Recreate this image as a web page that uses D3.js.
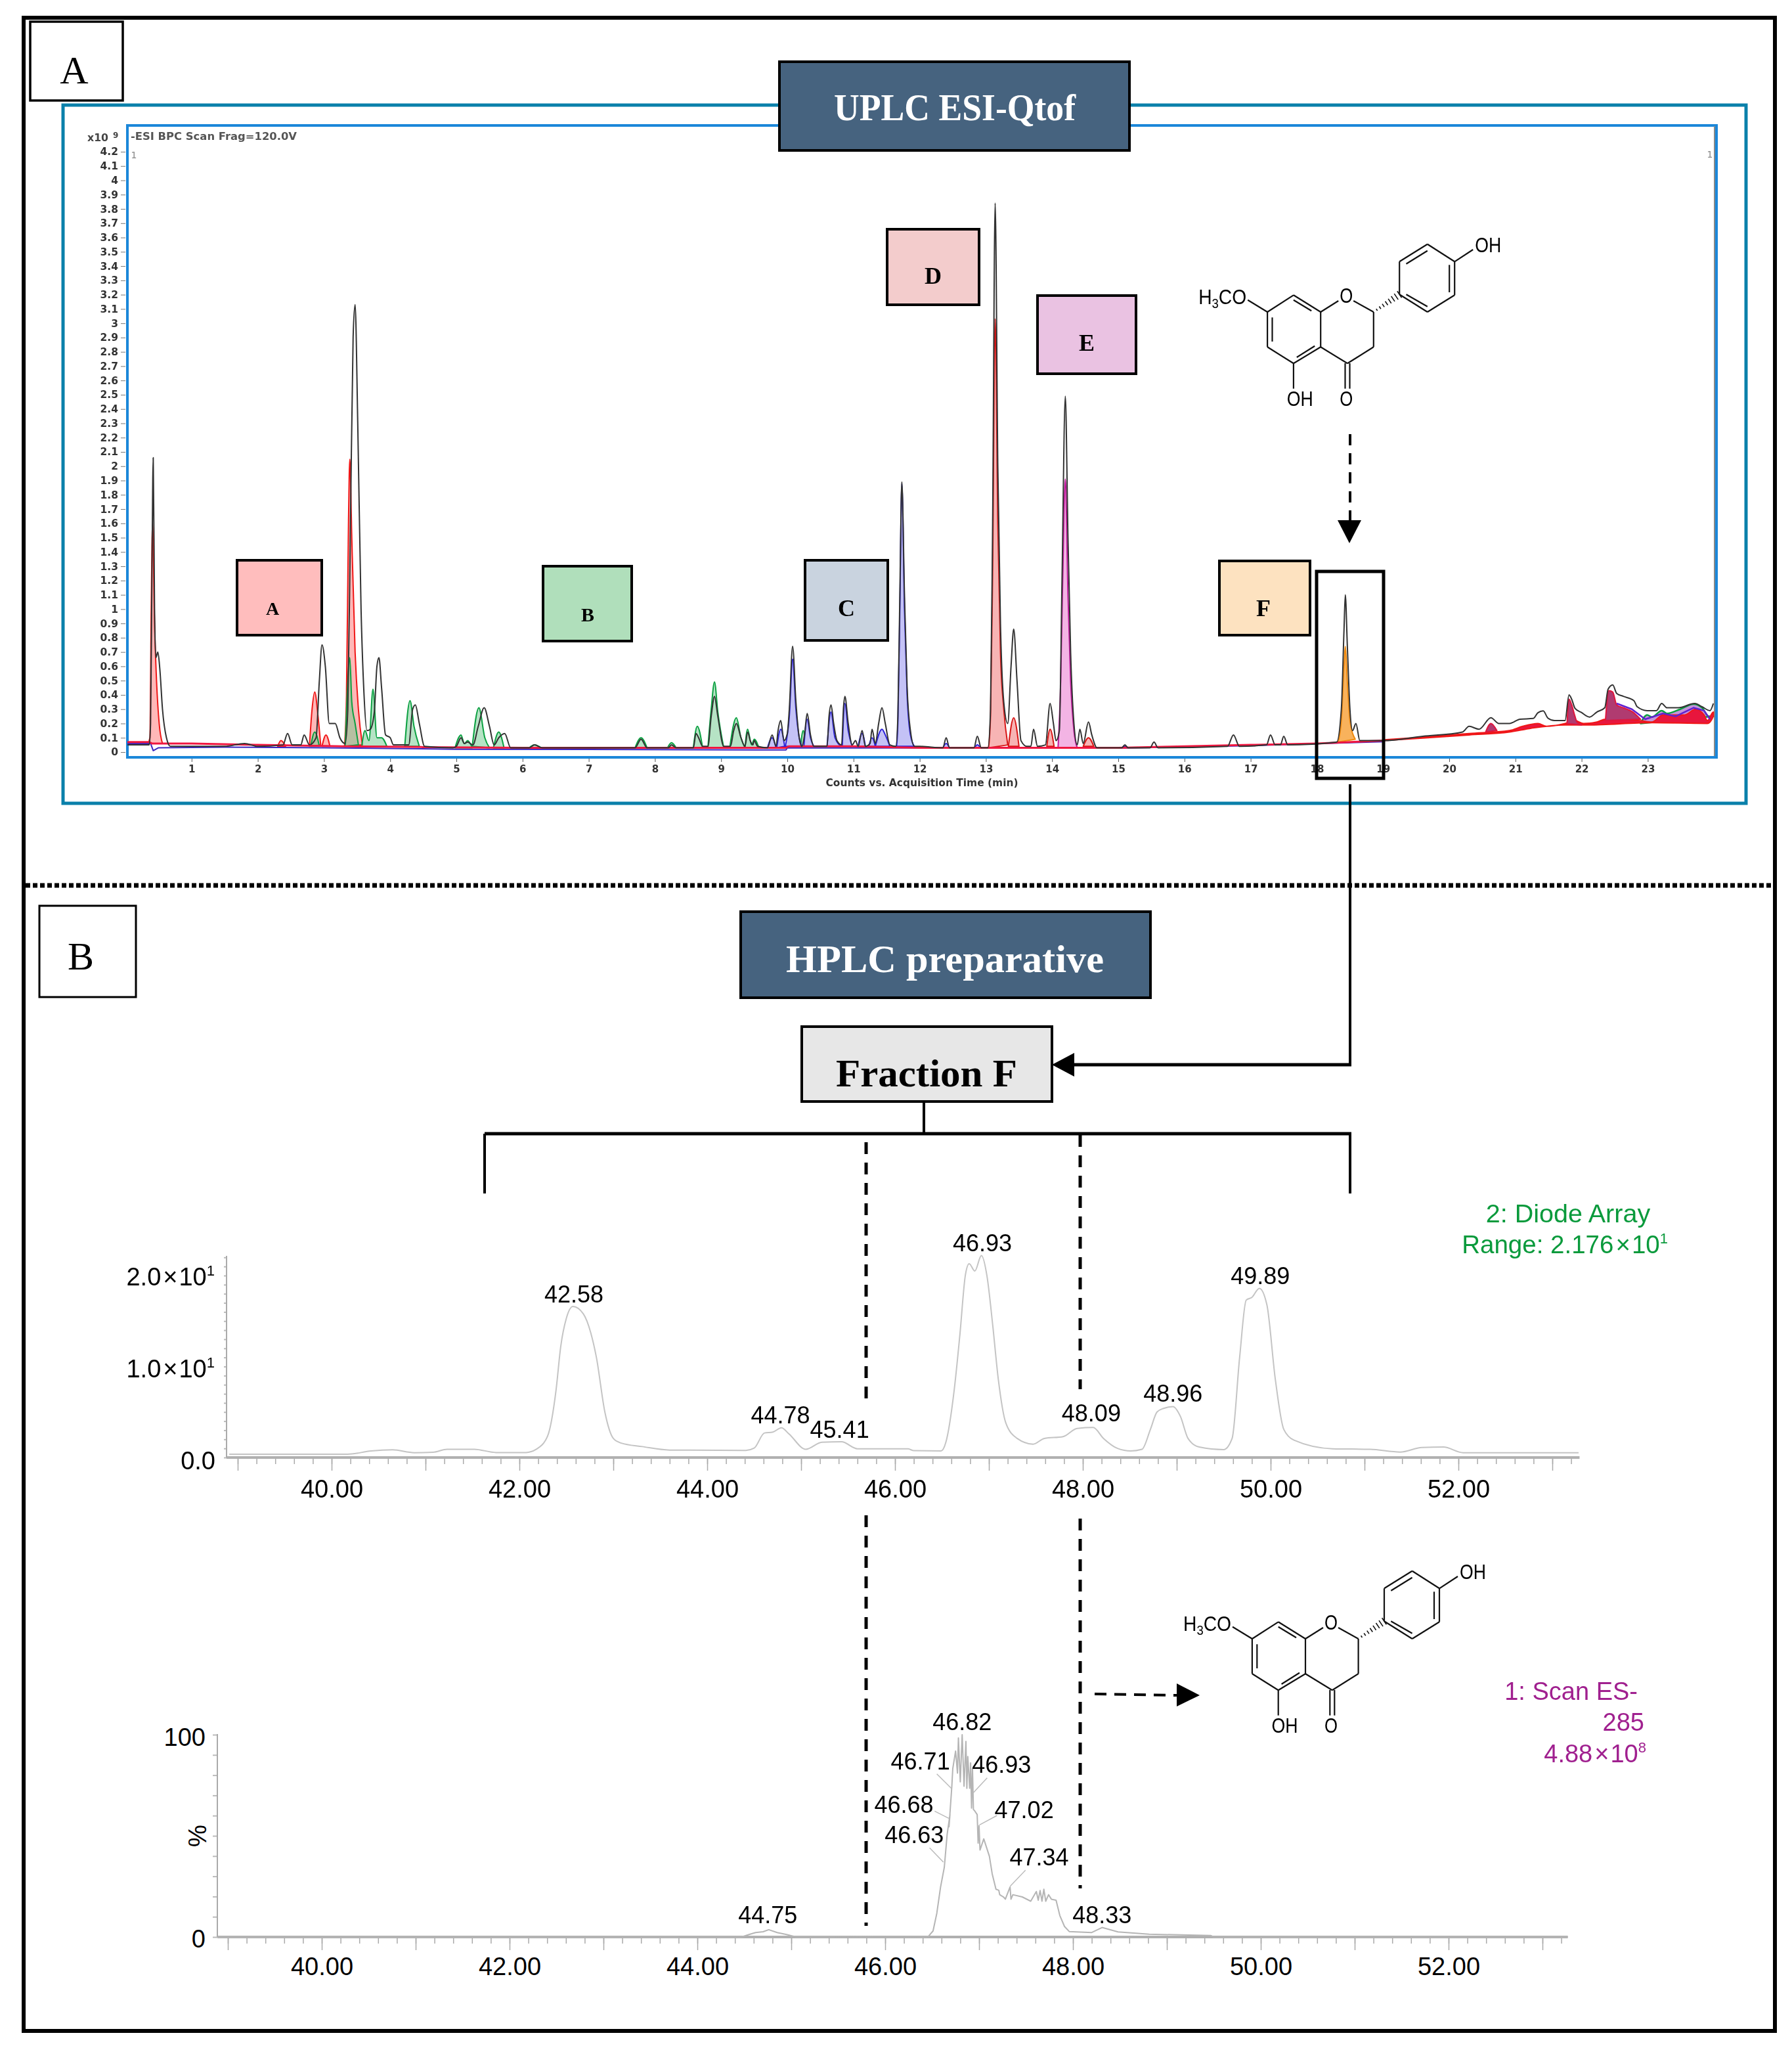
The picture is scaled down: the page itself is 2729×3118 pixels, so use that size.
<!DOCTYPE html>
<html><head><meta charset="utf-8">
<style>html,body{margin:0;padding:0;background:#fff}svg{display:block}text{font-family:"Liberation Sans",Arial,sans-serif}</style>
<script src="https://cdn.jsdelivr.net/npm/d3@7"></script></head><body>
<svg id="c" width="2729" height="3118"></svg>
<script>
// ---------- DATA: UPLC ESI-Qtof base peak chromatogram (t min, counts x10^9) ----------
const uplcBpcTrace = [[.03,.05],[.36,.05],[.38,.2],[.40,1.2],[.42,2.06],[.44,1.0],[.46,.66],[.49,.7],[.52,.58],[.56,.3],[.62,.1],[.68,.04],[1.5,.04],[1.8,.06],[2.0,.04],[2.38,.05],[2.45,.13],[2.52,.05],[2.65,.05],[2.7,.12],[2.78,.05],[2.88,.1],[2.93,.5],[2.97,.75],[3.02,.6],[3.08,.2],[3.13,.2],[3.17,.2],[3.24,.1],[3.32,.06],[3.36,.3],[3.4,1.6],[3.44,2.9],[3.47,3.13],[3.51,2.3],[3.56,1.0],[3.6,.45],[3.65,.15],[3.7,.16],[3.76,.28],[3.8,.6],[3.83,.66],[3.87,.45],[3.93,.12],[4.0,.1],[4.05,.05],[4.28,.05],[4.34,.3],[4.38,.33],[4.44,.2],[4.52,.04],[4.95,.03],[5.0,.04],[5.07,.1],[5.12,.06],[5.17,.07],[5.25,.05],[5.33,.18],[5.42,.31],[5.5,.18],[5.57,.05],[5.64,.1],[5.73,.13],[5.82,.03],[6.1,.03],[6.18,.05],[6.3,.03],[7.7,.03],[7.79,.09],[7.88,.03],[8.2,.03],[8.25,.05],[8.32,.03],[8.58,.03],[8.62,.13],[8.66,.1],[8.72,.04],[8.8,.04],[8.85,.25],[8.9,.39],[8.95,.25],[9.04,.04],[9.14,.04],[9.19,.15],[9.23,.2],[9.3,.1],[9.36,.04],[9.4,.14],[9.44,.08],[9.48,.05],[9.5,.08],[9.55,.04],[9.7,.03],[9.77,.12],[9.83,.04],[9.86,.15],[9.9,.22],[9.95,.08],[10.0,.13],[10.03,.3],[10.08,.74],[10.13,.35],[10.18,.1],[10.22,.04],[10.26,.12],[10.3,.27],[10.35,.12],[10.4,.04],[10.6,.04],[10.63,.25],[10.66,.33],[10.7,.2],[10.75,.08],[10.82,.05],[10.85,.32],[10.87,.39],[10.92,.2],[10.98,.05],[11.03,.08],[11.07,.04],[11.13,.15],[11.18,.04],[11.25,.06],[11.28,.16],[11.33,.06],[11.38,.2],[11.43,.31],[11.48,.2],[11.55,.05],[11.64,.04],[11.67,.25],[11.7,1.1],[11.73,1.89],[11.77,1.1],[11.81,.45],[11.86,.15],[11.92,.04],[12.0,.04],[12.35,.03],[12.4,.1],[12.45,.03],[12.82,.03],[12.87,.11],[12.93,.03],[13.03,.03],[13.07,.3],[13.1,1.5],[13.14,3.84],[13.18,2.0],[13.22,.9],[13.27,.35],[13.33,.2],[13.38,.6],[13.42,.86],[13.47,.5],[13.53,.08],[13.62,.04],[13.68,.04],[13.72,.16],[13.78,.04],[13.9,.05],[13.97,.34],[14.02,.2],[14.06,.08],[14.11,.15],[14.15,1.2],[14.2,2.49],[14.24,1.5],[14.28,.7],[14.33,.2],[14.38,.05],[14.42,.16],[14.47,.06],[14.55,.21],[14.6,.12],[14.68,.03],[15.05,.03],[15.1,.05],[15.15,.03],[15.48,.03],[15.54,.07],[15.6,.03],[16.65,.04],[16.74,.12],[16.83,.04],[17.24,.05],[17.3,.12],[17.37,.05],[17.45,.05],[17.5,.11],[17.56,.05],[18.3,.07],[18.37,.3],[18.41,.85],[18.43,1.1],[18.46,.75],[18.5,.3],[18.54,.15],[18.59,.2],[18.65,.08],[19,.08],[19.6,.11],[20.2,.14],[20.3,.18],[20.45,.16],[20.63,.24],[20.75,.2],[20.91,.2],[21.07,.23],[21.27,.235],[21.34,.275],[21.42,.288],[21.49,.238],[21.59,.22],[21.75,.22],[21.81,.4],[21.85,.37],[21.9,.306],[22.0,.276],[22.12,.245],[22.23,.28],[22.35,.31],[22.4,.44],[22.47,.47],[22.53,.41],[22.63,.39],[22.79,.36],[22.84,.317],[22.99,.29],[23.13,.29],[23.21,.34],[23.29,.31],[23.46,.31],[23.71,.34],[23.82,.317],[23.94,.29],[23.99,.34]];
const fractionA = [
 [[.34,.06],[.37,.1],[.39,1.0],[.41,1.6],[.44,.9],[.47,.5],[.51,.2],[.56,.06]],
 [[2.3,.04],[2.35,.08],[2.42,.04]],
 [[2.78,.04],[2.82,.3],[2.86,.42],[2.91,.25],[2.95,.05]],
 [[2.97,.04],[3.03,.12],[3.09,.04]],
 [[3.31,.04],[3.34,.4],[3.37,1.6],[3.39,2.05],[3.42,1.5],[3.47,.7],[3.52,.3],[3.58,.05]]];
const fractionB = [
 [[2.8,.04],[2.86,.14],[2.93,.04]],
 [[3.32,.04],[3.35,.4],[3.39,.66],[3.42,.35],[3.47,.2],[3.52,.05]],
 [[3.57,.04],[3.62,.15],[3.68,.08],[3.74,.44],[3.8,.1],[3.87,.1],[3.95,.04]],
 [[4.22,.04],[4.3,.36],[4.36,.18],[4.44,.04]],
 [[4.98,.03],[5.07,.12],[5.12,.06],[5.17,.08],[5.24,.03]],
 [[5.24,.04],[5.34,.31],[5.43,.1],[5.5,.03]],
 [[5.56,.03],[5.64,.14],[5.72,.03]],
 [[6.1,.03],[6.18,.05],[6.28,.03]],
 [[7.7,.03],[7.79,.1],[7.88,.03]],
 [[8.19,.03],[8.25,.065],[8.32,.03]],
 [[8.58,.03],[8.64,.18],[8.72,.03]],
 [[8.8,.03],[8.85,.3],[8.9,.49],[8.95,.28],[9.04,.03]],
 [[9.13,.03],[9.23,.24],[9.3,.1],[9.36,.03]],
 [[9.36,.03],[9.4,.16],[9.46,.05],[9.5,.09],[9.57,.03]],
 [[10.2,.04],[10.24,.15],[10.28,.04]]];
const fractionC = [
 [[9.7,.03],[9.77,.1],[9.83,.03]],
 [[9.84,.03],[9.9,.16],[9.96,.04]],
 [[9.97,.04],[10.03,.25],[10.08,.65],[10.13,.3],[10.18,.1],[10.22,.04]],
 [[10.25,.04],[10.3,.23],[10.35,.1],[10.4,.04]],
 [[10.6,.04],[10.66,.28],[10.72,.1],[10.82,.04]],
 [[10.83,.04],[10.87,.34],[10.92,.15],[10.98,.04]],
 [[11.07,.04],[11.13,.13],[11.18,.04]],
 [[11.23,.04],[11.28,.1],[11.33,.04]],
 [[11.33,.04],[11.43,.16],[11.48,.12],[11.55,.04]],
 [[11.65,.04],[11.67,.2],[11.7,1.0],[11.73,1.88],[11.77,1.0],[11.81,.4],[11.86,.12],[11.92,.04]],
 [[12.35,.03],[12.4,.06],[12.45,.03]],
 [[12.83,.03],[12.87,.05],[12.92,.03]],
 [[15.05,.03],[15.1,.04],[15.15,.03]]];
const fractionD = [
 [[13.04,.03],[13.07,.25],[13.1,1.2],[13.14,3.03],[13.18,1.6],[13.22,.7],[13.27,.3],[13.33,.05]],
 [[13.34,.04],[13.42,.24],[13.5,.04]],
 [[13.92,.04],[13.97,.16],[14.03,.04]],
 [[14.47,.04],[14.55,.1],[14.63,.04]]];
const fractionE = [[[14.09,.03],[14.13,.5],[14.16,1.2],[14.2,1.91],[14.24,1.1],[14.28,.5],[14.33,.15],[14.38,.03]]];
const fractionF = [[[18.32,.07],[18.37,.22],[18.41,.6],[18.43,.74],[18.46,.5],[18.5,.22],[18.58,.09]]];
const lateCrimson = [
 [[20.55,.14],[20.63,.2],[20.72,.15]],
 [[21.78,.2],[21.81,.37],[21.85,.33],[21.9,.25],[21.93,.21],[22.0,.19]],
 [[22.36,.22],[22.41,.43],[22.47,.42],[22.53,.33],[22.63,.31],[22.76,.284],[22.89,.23]]];
const lateRedTop = [[19,.085],[19.6,.105],[20.3,.13],[20.91,.15],[21.11,.18],[21.34,.2],[21.47,.18],[21.75,.2],[21.9,.22],[22.03,.2],[22.23,.21],[22.36,.23],[22.89,.22],[23.06,.21],[23.23,.26],[23.56,.26],[23.72,.3],[23.85,.26],[23.9,.22],[23.99,.28]];
const lateRedBottom = [[23.99,.25],[23.9,.2],[23.06,.206],[22.1,.19],[21.75,.19],[21.24,.167],[20.91,.14],[20.3,.12],[19.6,.098],[19,.08]];
const lateGreen = [[22.89,.2],[22.99,.26],[23.06,.245],[23.21,.29],[23.29,.27],[23.49,.30],[23.69,.335],[23.82,.31],[23.92,.25],[23.99,.25]];
const latePurple = [[22.53,.34],[22.76,.3],[22.96,.23],[23.23,.27],[23.42,.25],[23.69,.31],[23.85,.29],[23.94,.23]];
const redBaseline = [[.03,.07],[.36,.07],[.4,.06],[1.0,.06],[2.0,.05],[3.3,.04],[4.5,.035],[6,.03],[9.98,.03],[10.02,.04],[11,.04],[12,.03],[15,.03],[16,.04],[17,.05],[18,.06],[19,.08]];
const blueBaseline = [[.03,.06],[.38,.06],[.42,.01],[.5,.03],[1.5,.035],[3,.03],[5,.02],[9.98,.015],[10,.03],[15,.028],[17,.045],[19,.072]];
const uplcXTicks = d3.range(1,24);
const uplcYTicks = d3.range(0,43).map(i=>i/10);

// ---------- DATA: HPLC preparative, diode array trace (t min, absorbance) ----------
const diodeTrace = [[38.91,.36],[40.17,.36],[40.42,.72],[40.65,.84],[40.88,.53],[41.08,.58],[41.23,.91],[41.52,.91],[41.75,.55],[42.07,.55],[42.18,.91],[42.3,2.36],[42.39,7.4],[42.44,12.2],[42.5,15.3],[42.57,16.6],[42.68,15.8],[42.76,13.7],[42.82,11.0],[42.91,5],[43.0,2.1],[43.08,1.6],[43.31,1.2],[43.6,.82],[44.41,.77],[44.5,1.03],[44.61,2.7],[44.7,2.8],[44.79,3.27],[44.87,2.6],[45.05,.91],[45.22,1.68],[45.43,1.73],[45.6,.96],[46.14,.95],[46.2,.75],[46.49,.72],[46.54,1.63],[46.63,7.4],[46.69,13.4],[46.75,20.1],[46.79,21.3],[46.85,20.5],[46.92,22.2],[46.98,19.9],[47.04,14.6],[47.1,8.6],[47.18,3.8],[47.3,2.1],[47.47,1.47],[47.59,2.1],[47.79,2.3],[47.94,3.2],[48.11,3.3],[48.22,2.1],[48.37,1.0],[48.51,.72],[48.63,.9],[48.72,3.1],[48.79,5],[48.86,5.4],[48.96,5.6],[49.04,4.5],[49.12,2.1],[49.24,1.15],[49.5,.87],[49.59,2.1],[49.67,11],[49.74,17.3],[49.8,17.6],[49.88,18.6],[49.96,16.8],[50.05,8.6],[50.14,3.1],[50.25,1.9],[50.66,.96],[51.06,.9],[51.38,.6],[51.61,1.1],[51.84,1.15],[52.05,.53],[53.28,.53]];
const diodeLabels = ["42.58","44.78","45.41","46.93","48.09","48.96","49.89"];
const diodeLabelT = [42.58,44.78,45.41,46.93,48.09,48.96,49.89];
const diodeLabelV = [16.9,3.6,2.0,22.5,3.8,6.0,18.9];
// ---------- DATA: Scan ES- 285 trace (t min, %) ----------
const scanTrace = [[38.89,0],[44.47,0],[44.55,1.2],[44.62,2.2],[44.7,2.6],[44.76,3.6],[44.85,2.2],[44.95,1.2],[45.04,.2],[46.42,0],[46.46,.3],[46.51,3],[46.55,11.7],[46.59,24.7],[46.63,34.5],[46.66,50.7],[46.69,60.5],[46.68,54.5],[46.71,74.5],[46.72,83.2],[46.75,91.9],[46.77,81],[46.78,98.4],[46.80,76.7],[46.82,100],[46.84,74.5],[46.86,96.7],[46.87,73.5],[46.88,89.2],[46.90,73.5],[46.91,86],[46.92,63.7],[46.93,83.2],[46.94,63],[46.95,62.6],[46.98,60.5],[46.99,46.4],[47.0,55],[47.01,43],[47.05,48.5],[47.11,39.9],[47.14,31.2],[47.18,23.6],[47.21,23.1],[47.22,20.9],[47.26,19.8],[47.28,18.7],[47.33,24.7],[47.34,18.7],[47.36,20.9],[47.46,19.8],[47.55,17.7],[47.61,22.5],[47.63,18.2],[47.65,23],[47.67,17.7],[47.69,23.6],[47.71,17.7],[47.74,20.9],[47.77,18.7],[47.82,18.2],[47.86,10.6],[47.91,5.2],[47.96,2.7],[48.2,2.2],[48.31,4.7],[48.48,2.5],[48.81,1.4],[49.47,.7],[49.5,0],[53.27,0]];
const scanLabels = ["44.75","46.63","46.68","46.71","46.82","46.93","47.02","47.34","48.33"];
const scanLabelT=[44.75,46.31,46.2,46.375,46.82,47.24,47.48,47.64,48.31];
const scanLabelV=[6.8,46.4,61.4,82.9,102.3,81.2,58.8,35.4,6.8];
const hplcXLabels = [40,42,44,46,48,50,52];

// ---------- LAYOUT ----------
const svg = d3.select("#c");
const defs = svg.append("defs");
defs.append("filter").attr("id","soft").attr("x","-2%").attr("y","-2%").attr("width","104%").attr("height","104%")
  .append("feGaussianBlur").attr("stdDeviation",0.7);
const SERIF='"Liberation Serif","DejaVu Serif",serif';
function rect(x,y,w,h,fill,stroke,sw){return svg.append("rect").attr("x",x).attr("y",y).attr("width",w).attr("height",h).attr("fill",fill).attr("stroke",stroke).attr("stroke-width",sw);}
function ln(g,x1,y1,x2,y2,c,sw,dash){const l=g.append("line").attr("x1",x1).attr("y1",y1).attr("x2",x2).attr("y2",y2).attr("stroke",c).attr("stroke-width",sw);if(dash)l.attr("stroke-dasharray",dash);return l;}
function txt(g,x,y,s,size,o={}){const t=g.append("text").attr("x",x).attr("y",y).attr("font-size",size).attr("text-anchor",o.anchor||"middle").attr("fill",o.fill||"#000").text(s);
 if(o.family)t.style("font-family",o.family);if(o.weight)t.attr("font-weight",o.weight);if(o.len)t.attr("textLength",o.len).attr("lengthAdjust","spacingAndGlyphs");return t;}
function poly(g,x,y,pts,fill,stroke,sw){const l=d3.line().x(d=>x(d[0])).y(d=>y(d[1])).curve(d3.curveMonotoneX);return g.append("path").attr("d",l(pts)+"Z").attr("fill",fill).attr("stroke",stroke).attr("stroke-width",sw).attr("stroke-linejoin","round");}
function trace(g,x,y,pts,stroke,sw,curve){const l=d3.line().x(d=>x(d[0])).y(d=>y(d[1]));if(curve)l.curve(curve);return g.append("path").attr("d",l(pts)).attr("fill","none").attr("stroke",stroke).attr("stroke-width",sw).attr("stroke-linejoin","round");}
function sciLabel(g,x,y,parts,fill){ // mantissa × 10^exp with spaced multiplier
 const t=g.append("text").attr("x",x).attr("y",y).attr("text-anchor","end").attr("font-size",parts.size||38).attr("fill",fill||"#000");
 t.append("tspan").text(parts.m);t.append("tspan").attr("dx",3).text("×");t.append("tspan").attr("dx",2).text("10");
 t.append("tspan").attr("font-size",22).attr("dy",-15).text(parts.e);return t;}

// outer frame
rect(36,27,2667,3065,"#fff","#000",6);
// teal + blue boxes
rect(96,160,2563,1063,"#fff","#0a80aa",5);
rect(194,191,2420,962,"#fff","#1b87d9",4);
ln(svg,2611,192,2611,1151,"#888",2);

// ---- Panel A chart
const gA = svg.append("g").attr("filter","url(#soft)");
const xA = d3.scaleLinear().domain([0,24]).range([191,191+100.8*24]);
const yA = d3.scaleLinear().domain([0,4.2]).range([1145,231]);
const axXA = gA.append("g").attr("transform","translate(0,1155)").call(d3.axisBottom(xA).tickValues(uplcXTicks).tickSize(5).tickPadding(5).tickFormat(d3.format("d")));
axXA.select(".domain").remove();
axXA.selectAll("text").attr("font-size",15).attr("fill","#333").style("font-family",'"DejaVu Sans",sans-serif').attr("font-weight","bold");
axXA.selectAll("line").attr("stroke","#555");
const axYA = gA.append("g").attr("transform","translate(191,0)").call(d3.axisLeft(yA).tickValues(uplcYTicks).tickSize(7).tickPadding(4).tickFormat(d=>d3.format("~g")(d)));
axYA.select(".domain").remove();
axYA.selectAll("text").attr("font-size",15.5).attr("fill","#333").style("font-family",'"DejaVu Sans",sans-serif').attr("font-weight","bold");
axYA.selectAll("line").attr("stroke","#777");
txt(gA,133,215,"x10",16,{anchor:"start",fill:"#444",family:'"DejaVu Sans",sans-serif',weight:"bold",len:32});
txt(gA,172,210,"9",12,{anchor:"start",fill:"#444",family:'"DejaVu Sans",sans-serif',weight:"bold"});
txt(gA,199,213,"-ESI BPC Scan Frag=120.0V",15,{anchor:"start",fill:"#555",family:'"DejaVu Sans",sans-serif',weight:"bold",len:253});
txt(gA,204,241,"1",14,{fill:"#888",family:'"DejaVu Sans",sans-serif'});
txt(gA,2604,240,"1",14,{fill:"#888",family:'"DejaVu Sans",sans-serif'});
txt(gA,1404,1197,"Counts vs. Acquisition Time (min)",15,{fill:"#333",family:'"DejaVu Sans",sans-serif',weight:"bold",len:293});

const series=[[fractionA,"rgba(255,160,160,.75)","#f01818"],[fractionB,"rgba(110,200,140,.5)","#08a040"],[fractionC,"#c4c2f6","#2a20d8"],[fractionD,"#f7b4b4","#d81818"],[fractionE,"#f3b4e4","#c0189c"],[fractionF,"#f8b25c","#f08a10"]];
series.forEach(([peaks,f,s])=>peaks.forEach(p=>poly(gA,xA,yA,p,f,s,2)));
poly(gA,xA,yA,lateGreen,"rgba(150,60,190,.55)","#08a040",2.5);
poly(gA,xA,yA,lateRedTop.concat(lateRedBottom),"#e8143c","#f01818",2);
lateCrimson.forEach(p=>poly(gA,xA,yA,p,"#b03a70","#e0143c",2));
trace(gA,xA,yA,latePurple,"#6020d0",2.5);
trace(gA,xA,yA,blueBaseline,"#3a28c0",2);
trace(gA,xA,yA,redBaseline,"#f01840",3);
trace(gA,xA,yA,uplcBpcTrace,"#333",2,d3.curveMonotoneX);

// fraction boxes
const boxes=[["A",361,853,129,114,"#ffbdbd",415,936,28],["B",827,862,135,114,"#b0dfbb",895,946,30],["C",1226,853,126,122,"#c9d3df",1289,938,36],["D",1351,349,140,115,"#f3cccc",1421,432,36],["E",1580,450,150,119,"#eac2e2",1655,534,36],["F",1857,854,138,113,"#fde2c0",1924,938,36]];
boxes.forEach(b=>{rect(b[1],b[2],b[3],b[4],b[5],"#000",4);txt(svg,b[6],b[7],b[0],b[8],{family:SERIF,weight:"bold"});});
rect(2005,870,102,315,"none","#000",5);

// panel letters and title boxes
rect(46,33,141,120,"#fff","#000",3.5);
txt(svg,113,127,"A",60,{family:SERIF});
rect(60,1379,147,139,"#fff","#000",3);
txt(svg,123,1476,"B",60,{family:SERIF});
rect(1187,94,533,135,"#46637f","#000",4);
txt(svg,1454,183,"UPLC ESI-Qtof",58,{family:SERIF,weight:"bold",fill:"#fff",len:368});
rect(1128,1388,624,131,"#46637f","#000",4);
txt(svg,1439,1480,"HPLC preparative",60,{family:SERIF,weight:"bold",fill:"#fff",len:484});
rect(1221,1563,381,114,"#e7e7e7","#000",4);
txt(svg,1411,1654,"Fraction F",60,{family:SERIF,weight:"bold",len:276});

// dotted separator
ln(svg,39,1348,2700,1348,"#000",7,"7 4");

// flow connectors
const flow=svg.append("g");
ln(flow,2056,1194,2056,1621,"#000",4);
ln(flow,2058,1621,1636,1621,"#000",5);
flow.append("path").attr("d","M1602,1621L1636,1603L1636,1639Z");
ln(flow,1407,1677,1407,1726,"#000",4);
ln(flow,738,1726,2058,1726,"#000",5);
ln(flow,738,1726,738,1817,"#000",4);
ln(flow,2056,1726,2056,1817,"#000",4);
ln(flow,2056,661,2056,792,"#000",4,"17 12");
flow.append("path").attr("d","M2037,792L2073,792L2055,827Z");
ln(flow,1667,2579,1792,2581,"#000",4,"18 12");
flow.append("path").attr("d","M1792,2563L1827,2581L1792,2598Z");

// ---- Chart 1: diode array
const LG="#c4c4c4";
const x1=d3.scaleLinear().domain([40,52]).range([505,505+143*12]);
const y1=d3.scaleLinear().domain([0,20]).range([2219,1942]);
const g1=svg.append("g");
function xAxes(g,x,y0,lo,hi,pad,size){
 const mn=[],mj=[];for(let i=Math.ceil(lo*5);i<=Math.floor(hi*5);i++){mn.push(i/5);}for(let i=Math.ceil(lo);i<=hi;i++)mj.push(i);
 const a=g.append("g").attr("transform",`translate(0,${y0})`).call(d3.axisBottom(x).tickValues(mn).tickSize(10).tickFormat(""));
 a.select(".domain").remove();a.selectAll("line").attr("stroke","#aaa").attr("stroke-width",1.5);
 const b=g.append("g").attr("transform",`translate(0,${y0})`).call(d3.axisBottom(x).tickValues(mj).tickSize(20).tickFormat(""));
 b.select(".domain").remove();b.selectAll("line").attr("stroke","#aaa").attr("stroke-width",1.5);
 const c=g.append("g").attr("transform",`translate(0,${y0})`).call(d3.axisBottom(x).tickValues(hplcXLabels).tickSize(0).tickPadding(pad).tickFormat(d3.format(".2f")));
 c.select(".domain").remove();c.selectAll("line").remove();
 c.selectAll("text").attr("font-size",size).attr("fill","#000");
 ln(g,x(lo),y0,x(hi),y0,"#b0b0b0",4);
}
xAxes(g1,x1,2219,38.88,53.29,34,38);
const a1=g1.append("g").attr("transform","translate(345,0)").call(d3.axisLeft(y1).tickValues(d3.range(0,23)).tickSize(4).tickFormat(""));
a1.select(".domain").remove();a1.selectAll("line").attr("stroke","#bbb").attr("stroke-width",2);
ln(g1,345,1912,345,2219,"#aaa",2);
trace(g1,x1,y1,diodeTrace,LG,2,d3.curveMonotoneX);
sciLabel(g1,327,1957,{m:"2.0",e:"1"});
sciLabel(g1,327,2097,{m:"1.0",e:"1"});
txt(g1,328,2237,"0.0",38,{anchor:"end"});
diodeLabels.forEach((s,i)=>{txt(g1,x1(diodeLabelT[i]),y1(diodeLabelV[i])-2,s,36);});
const GR="#0a9a3c";
txt(g1,2388,1861,"2: Diode Array",39.5,{fill:GR});
sciLabel(g1,2540,1908,{m:"Range: 2.176",e:"1",size:38.5},GR);

// ---- Chart 2: Scan ES-
const x2=d3.scaleLinear().domain([40,52]).range([490,490+143*12]);
const y2=d3.scaleLinear().domain([0,100]).range([2949,2641]);
const g2=svg.append("g");
xAxes(g2,x2,2949,38.89,53.27,31,38);
const a2=g2.append("g").attr("transform","translate(331,0)").call(d3.axisLeft(y2).tickValues(d3.range(0,101,10)).tickSize(7).tickFormat(""));
a2.select(".domain").remove();a2.selectAll("line").attr("stroke","#bbb").attr("stroke-width",2);
ln(g2,331,2640,331,2949,"#aaa",2);
trace(g2,x2,y2,scanTrace,"#b5b5b5",2);
txt(g2,313,2658,"100",38,{anchor:"end"});
txt(g2,313,2965,"0",38,{anchor:"end"});
g2.append("text").attr("transform","translate(314,2795) rotate(-90)").attr("text-anchor","middle").attr("font-size",38).text("%");
scanLabels.forEach((s,i)=>txt(g2,x2(scanLabelT[i]),y2(scanLabelV[i]),s,36));
[[530,422,598,490],[520,592,585,625],[497,760,560,825],[760,440,695,510],[805,612,725,655],[935,862,865,935]].forEach(d=>ln(g2,1250+d[0]/3,2560+d[1]/3,1250+d[2]/3,2560+d[3]/3,"#bbb",1.5));
const PU="#a0208f";
txt(g2,2494,2588,"1: Scan ES-",38,{anchor:"end",fill:PU});
txt(g2,2504,2635,"285",38,{anchor:"end",fill:PU});
sciLabel(g2,2507,2683,{m:"4.88",e:"8"},PU);

// ---- Dashed retention-window guides
const guides=svg.append("g");
[[1319,1739,2142],[1319,2307,2932],[1645,1728,2115],[1645,2312,2875]].forEach(d=>ln(guides,d[0],d[1],d[0],d[2],"#000",5,"18 13"));

// ---- Flavanone structures, drawn twice
const bonds=[[1946.7,2469.3,1988,2495],[1988,2495,1988,2548.3],[1988,2548.3,1946.7,2573.3],[1946.7,2573.3,1906.9,2548.3],[1906.9,2548.3,1906.9,2495],[1906.9,2495,1946.7,2469.3],
[1946.7,2476.7,1974,2493.3],[1951.6,2564,1979,2546.7],[1914.3,2503.3,1914.3,2540],
[1988,2495,2015,2478],[2038,2478,2068.6,2495],[2068.6,2495,2068.6,2548.3],[2068.6,2548.3,2028.8,2573.3],[2028.8,2573.3,1988,2548.3],
[2025.3,2573,2025.3,2611.7],[2032.3,2573,2032.3,2611.7],[1946.7,2573.3,1946.7,2611.7],[1877,2476.7,1906.9,2495],
[2108,2468.3,2108,2418.3],[2108,2418.3,2150.6,2391.7],[2150.6,2391.7,2192,2418.3],[2192,2418.3,2192,2469.3],[2192,2469.3,2150.6,2495],[2150.6,2495,2108,2468.3],
[2118.3,2421.7,2150.6,2401.7],[2184,2423.3,2184,2465],[2118.3,2468.3,2150.6,2486.7],[2192,2418.3,2220,2400]];
function molecule(dx,dy){
 const g=svg.append("g").attr("transform",`translate(${dx},${dy})`);
 bonds.forEach(b=>ln(g,b[0],b[1],b[2],b[3],"#111",2.2));
 for(let i=1;i<=8;i++){const f=i/8,cx=2068.6+(2108-2068.6)*f,cy=2495+(2468.3-2495)*f,w=1+f*5;
  ln(g,cx-w*0.56,cy-w*0.83,cx+w*0.56,cy+w*0.83,"#111",1.6);}
 const F=32;
 txt(g,2027,2481,"O",F,{len:20});txt(g,2027,2638,"O",F,{len:20});txt(g,1956.6,2638,"OH",F,{len:40});txt(g,2243,2404,"OH",F,{len:40});
 const t=g.append("text").attr("x",1802).attr("y",2483).attr("font-size",F).attr("textLength",73).attr("lengthAdjust","spacingAndGlyphs");
 t.append("tspan").text("H");t.append("tspan").attr("font-size",21).attr("dy",6).text("3");t.append("tspan").attr("dy",-6).text("CO");
}
molecule(0,0);
molecule(23.2,-2020);
</script></body></html>
